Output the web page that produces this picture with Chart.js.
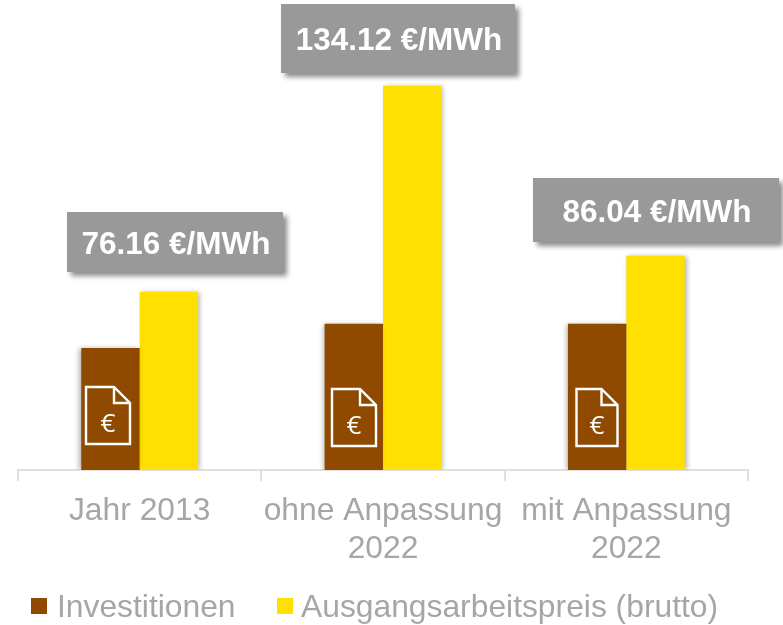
<!DOCTYPE html>
<html><head><meta charset="utf-8">
<style>html,body{margin:0;padding:0;background:#fff}#w{width:783px;height:625px}</style>
<script src="https://cdn.jsdelivr.net/npm/chart.js@4"></script></head>
<body><div id="w"><canvas id="c"></canvas></div>
<script>
const categories = [["Jahr 2013"], ["ohne Anpassung", "2022"], ["mit Anpassung", "2022"]];
const investitionen = [42.6, 51, 51];
const ausgangsarbeitspreis = [62.2, 134.12, 74.8];
const priceLabels = ["76.16 €/MWh", "134.12 €/MWh", "86.04 €/MWh"];
const seriesNames = ["Investitionen", "Ausgangsarbeitspreis (brutto)"];
const brown = "#8f4a00", yellow = "#ffe000", grey = "#a6a6a6";
const FONT = '"Liberation Sans", Arial, sans-serif';

const boxes = [[67,212,216,60],[281,4,234,69],[533,178,246,64]];
const icons = [[86,387,44],[332,389,44],[576.5,389,41]];

function drawDoc(ctx, x, y, w) {
  const h = 57, f = 16;
  ctx.save();
  ctx.strokeStyle = "#fff"; ctx.lineWidth = 2.4; ctx.lineJoin = "miter";
  ctx.beginPath();
  ctx.moveTo(x, y); ctx.lineTo(x + w - f, y); ctx.lineTo(x + w, y + f);
  ctx.lineTo(x + w, y + h); ctx.lineTo(x, y + h); ctx.closePath();
  ctx.moveTo(x + w - f, y); ctx.lineTo(x + w - f, y + f); ctx.lineTo(x + w, y + f);
  ctx.stroke();
  ctx.fillStyle = "#fff"; ctx.font = '26px "Open Sans", sans-serif';
  ctx.textAlign = "center"; ctx.textBaseline = "middle";
  ctx.fillText("€", x + w / 2, y + 38);
  ctx.restore();
}

const overlay = {
  id: "overlay",
  beforeDatasetDraw(chart, args) {
    const c = chart.ctx; c.save();
    c.shadowColor = "rgba(0,0,0,0.30)"; c.shadowBlur = 5;
    c.shadowOffsetX = args.index === 0 ? -2 : 2; c.shadowOffsetY = 0;
  },
  afterDatasetDraw(chart) { chart.ctx.restore(); },
  afterDraw(chart) {
    const c = chart.ctx;
    icons.forEach(p => drawDoc(c, p[0], p[1], p[2]));
    priceLabels.forEach((t, i) => {
      const b = boxes[i];
      c.save();
      c.shadowColor = "rgba(0,0,0,0.45)"; c.shadowBlur = 5; c.shadowOffsetX = 4; c.shadowOffsetY = 4;
      c.fillStyle = "#999999"; c.fillRect(b[0], b[1], b[2], b[3]);
      c.restore();
      c.save();
      c.fillStyle = "#fff"; c.font = "bold 31.5px " + FONT;
      c.textAlign = "center"; c.textBaseline = "middle";
      c.fillText(t, b[0] + b[2] / 2 + 1, b[1] + b[3] / 2 + 3);
      c.restore();
    });
    const lx = [[31, 57], [277, 301]];
    seriesNames.forEach((n, i) => {
      c.save();
      c.fillStyle = chart.data.datasets[i].backgroundColor;
      c.fillRect(lx[i][0], 598, 16, 16);
      c.fillStyle = grey; c.font = "31.8px " + FONT;
      c.textAlign = "left"; c.textBaseline = "middle";
      c.fillText(n, lx[i][1], 608);
      c.restore();
    });
  }
};

new Chart(document.getElementById("c"), {
  type: "bar",
  data: {
    labels: categories,
    datasets: [
      { label: seriesNames[0], data: investitionen, backgroundColor: brown },
      { label: seriesNames[1], data: ausgangsarbeitspreis, backgroundColor: yellow }
    ]
  },
  options: {
    responsive: true, maintainAspectRatio: false, animation: false,
    layout: { padding: { left: 18, right: 35, top: 0, bottom: 0 } },
    categoryPercentage: 0.48, barPercentage: 1,
    plugins: { legend: { display: false }, tooltip: { enabled: false } },
    scales: {
      x: {
        afterFit(s) { s.height = 155; },
        border: { color: "#e0e0e0", width: 2 },
        grid: { display: true, drawOnChartArea: false, drawTicks: true, tickLength: 11, color: "#e0e0e0", lineWidth: 2 },
        ticks: { color: grey, font: { family: FONT, size: 31.8 }, maxRotation: 0, autoSkip: false, padding: 11 }
      },
      y: { display: false, min: 0, max: 164 }
    }
  },
  plugins: [overlay]
});
</script></body></html>
